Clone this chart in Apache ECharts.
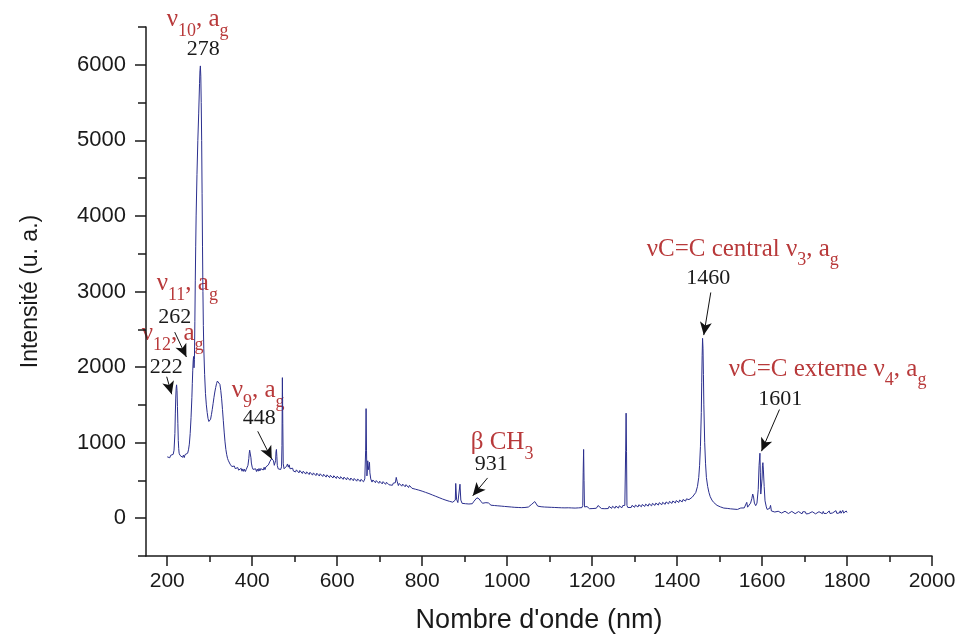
<!DOCTYPE html>
<html>
<head>
<meta charset="utf-8">
<script src="https://cdn.jsdelivr.net/npm/echarts@6/dist/echarts.min.js"></script>
<style>
  html, body { margin: 0; padding: 0; background: #fff; }
  #chart { width: 960px; height: 639px; }
</style>
</head>
<body>
<div id="chart"></div>
<script>
// Raman spectrum: [wavenumber, intensity] pairs, low-frequency region
const spectrumLow = [
  [200,812],[202,790],[204,826],[206,800],[208,832],[210,806],[212,836],[214,845],[216,900],[218,1120],
  [219,1380],[220,1590],[221,1720],[222,1765],[223,1690],[224,1480],[225,1250],[226,1030],[227,920],[228,860],
  [230,832],[232,808],[234,846],[236,806],[238,834],[240,802],[242,842],[244,816],[246,848],[248,860],
  [250,905],[252,980],[254,1120],[256,1330],[258,1600],[259,1780],[260,1950],[261,2080],[262,2140],[263,1990],
  [264,2100],[265,2600],[266,3150],[267,3600],[268,4000],[270,4550],[272,5000],[274,5350],[276,5750],[277,5920],
  [278,5985],[279,5850],[280,5500],[281,5000],[282,4300],[283,3600],[284,3000],[285,2550],[286,2250],[288,1900],
  [290,1650],[292,1500],[294,1400],[296,1320],[298,1280],[300,1275],[302,1310],[304,1370],[306,1440],[308,1520],
  [310,1600],[312,1670],[314,1730],[316,1780],[318,1815],[320,1830],[322,1815],[324,1770],[326,1690],[328,1580],
  [330,1440],[332,1290],[334,1140],[336,1010],[338,910],[340,840],[342,790],[344,760],[346,735],[348,715],
  [350,710],[352,684],[354,704],[356,668],[358,690],[360,656],[362,680],[364,642],[366,670],[368,636],
  [370,662],[372,630],[374,660],[376,622],[378,652],[380,620],[382,648],[384,618],[386,646],[388,655],
  [390,700],[392,790],[393,860],[394,900],[395,915],[396,880],[397,800],[398,730],[400,675],[402,646],
  [404,648],[406,620],[408,654],[410,618],[412,650],[414,622],[416,658],[418,626],[420,656],[422,630],
  [424,666],[426,638],[428,674],[430,642],[432,678],[434,658],[436,692],[438,705],[440,730],[442,755],
  [444,775],[446,790],[448,792],[450,760],[452,700],[454,690],[455,760],[456,880],[457,910],[458,820],
  [459,700],[461,654],[463,640],[465,674],[467,644],[469,680],[470,960],[471,1860],[472,1250],[473,720],
  [475,654],[477,640],[479,674],[481,690],[483,718],[485,676],[487,706],[489,654],[491,678],[493,634],
  [495,662],[497,624],[499,648]
];

// Mid-frequency region
const spectrumMid = [
  [502,612],[504,640],[506,626],[510,600],[512,632],[514,618],[518,592],[520,622],[522,606],[526,584],
  [528,614],[530,600],[534,578],[536,608],[538,592],[542,570],[544,600],[546,586],[550,564],[552,596],
  [554,580],[558,558],[560,588],[562,572],[566,552],[568,582],[570,566],[574,544],[576,574],[578,560],
  [582,538],[584,568],[586,552],[590,532],[592,562],[594,546],[598,526],[600,556],[602,540],[606,520],
  [608,550],[610,534],[614,514],[616,544],[618,528],[622,508],[624,538],[626,522],[630,502],[632,532],
  [634,516],[638,496],[640,526],[642,510],[646,490],[648,520],[650,504],[654,486],[656,514],[658,498],
  [662,482],[665,520],[667,900],[668,1450],[669,900],[670,560],[671,640],[672,760],[673,640],[675,700],
  [676,740],[677,600],[679,520],[682,478],[684,506],[686,490],[690,470],[692,498],[694,482],[698,462],
  [700,490],[702,476],[706,454],[708,484],[710,468],[714,448],[716,476],[718,462],[722,442],[724,468],
  [726,454],[730,436],[732,464],[734,450],[737,470],[739,540],[740,560],[741,490],[744,432],[746,460],
  [748,444],[752,424],[754,452],[756,436],[760,416],[762,444],[764,428],[768,406],[770,434],[772,418],
  [776,396],[778,422],[780,406],[784,384],[786,410],[788,394],[792,372],[794,396],[796,380],[800,358],
  [802,382],[804,366],[808,342],[810,364],[812,348],[816,326],[818,346],[820,332],[824,308],[826,328],
  [828,312],[832,290],[834,310],[836,294],[840,272],[842,292],[844,276],[848,254],[850,274],[852,258],
  [856,238],[858,258],[860,242],[864,224],[866,244],[868,230],[872,212],[874,234],[876,220],[878,240],
  [879,460],[880,470],[881,250],[884,207],[886,228],[888,222],[889,450],[890,465],[891,240],[894,197],
  [896,222],[898,212],[902,192],[904,218],[906,207],[910,188],[912,214],[914,202],[918,192],[922,225],
  [926,250],[929,270],[931,282],[934,255],[938,225],[942,198],[944,214],[946,188],[950,206],[952,192],
  [954,180],[956,202],[958,190],[962,172],[964,196],[966,184],[970,168],[972,192],[974,180],[978,164],
  [980,188],[982,176],[986,160],[988,184],[990,172],[994,156],[996,180],[998,168]
];

// High-frequency region
const spectrumHigh = [
  [1002,152],[1004,176],[1006,164],[1010,148],[1012,172],[1014,160],[1018,144],[1020,170],[1022,156],[1026,142],
  [1028,168],[1030,154],[1034,140],[1036,166],[1038,152],[1042,142],[1044,168],[1046,154],[1050,148],[1054,170],
  [1058,185],[1062,205],[1065,220],[1068,195],[1072,160],[1074,142],[1076,164],[1080,152],[1082,138],[1084,162],
  [1088,148],[1090,134],[1092,160],[1096,146],[1098,132],[1100,156],[1104,144],[1106,130],[1108,156],[1112,142],
  [1114,128],[1116,154],[1120,140],[1122,126],[1124,152],[1128,138],[1130,126],[1132,150],[1136,137],[1138,124],
  [1140,150],[1144,138],[1146,126],[1148,152],[1152,136],[1154,122],[1156,150],[1160,134],[1162,124],[1164,150],
  [1168,137],[1170,128],[1172,152],[1176,140],[1178,170],[1179,600],[1180,910],[1181,500],[1182,150],[1186,130],
  [1188,154],[1190,142],[1194,126],[1196,152],[1198,138],[1202,128],[1204,154],[1206,140],[1210,132],[1214,168],
  [1216,180],[1218,145],[1222,128],[1224,154],[1226,140],[1230,126],[1232,152],[1234,138],[1238,128],[1240,156],
  [1242,142],[1246,130],[1248,158],[1250,144],[1254,132],[1256,160],[1258,147],[1262,134],[1264,164],[1266,150],
  [1270,138],[1272,166],[1274,152],[1277,170],[1279,900],[1280,1390],[1281,880],[1282,170],[1284,142],[1286,168],
  [1288,154],[1292,142],[1294,170],[1296,157],[1300,144],[1302,174],[1304,160],[1308,148],[1310,178],[1312,164],
  [1316,152],[1318,182],[1320,168],[1324,156],[1326,186],[1328,172],[1332,160],[1334,192],[1336,178],[1340,164],
  [1342,196],[1344,182],[1348,170],[1350,200],[1352,186],[1356,174],[1358,206],[1360,192],[1364,178],[1366,210],
  [1368,196],[1372,184],[1374,216],[1376,202],[1380,190],[1382,222],[1384,208],[1388,196],[1390,228],[1392,214],
  [1396,202],[1398,234],[1400,220],[1404,208],[1406,240],[1408,226],[1412,216],[1414,248],[1416,234],[1420,226],
  [1422,256],[1424,244],[1428,246],[1432,265],[1436,280],[1440,300],[1444,340],[1448,420],[1451,540],[1453,700],
  [1455,950],[1457,1400],[1458,1800],[1459,2150],[1460,2380],[1461,2250],[1462,1900],[1463,1500],[1465,1000],[1467,720],
  [1469,540],[1472,420],[1475,340],[1478,285],[1482,240],[1486,210],[1490,190],[1494,170],[1496,182],[1498,156],
  [1502,150],[1504,162],[1506,138],[1510,134],[1512,150],[1514,124],[1518,130],[1520,142],[1522,116],[1526,124],
  [1528,136],[1530,110],[1534,120],[1536,132],[1538,106],[1542,116],[1544,128],[1546,112],[1550,135],[1552,160],
  [1554,120],[1558,136],[1562,160],[1564,210],[1566,146],[1570,158],[1573,200],[1576,260],[1578,320],[1580,280],
  [1582,200],[1585,166],[1588,200],[1591,380],[1593,700],[1595,860],[1596,600],[1597,320],[1599,300],[1600,520],
  [1601,700],[1602,735],[1603,650],[1605,420],[1607,230],[1610,150],[1612,116],[1615,100],[1618,130],[1620,170],
  [1622,96],[1624,72],[1626,94],[1630,82],[1632,100],[1634,70],[1638,92],[1640,74],[1642,96],[1646,68],
  [1648,90],[1650,66],[1654,92],[1656,70],[1658,84],[1662,62],[1664,88],[1666,66],[1670,90],[1672,64],
  [1674,86],[1678,60],[1680,84],[1682,64],[1686,88],[1688,62],[1690,80],[1694,58],[1696,86],[1698,64],
  [1702,84],[1704,56],[1706,80],[1710,62],[1712,88],[1714,60],[1718,86],[1720,62],[1722,80],[1726,58],
  [1728,84],[1730,56],[1734,86],[1736,64],[1738,82],[1742,60],[1744,90],[1746,62],[1750,86],[1752,64],
  [1754,80],[1758,96],[1760,62],[1762,84],[1766,70],[1768,92],[1770,66],[1774,100],[1776,64],[1778,86],
  [1782,70],[1784,98],[1786,66],[1790,104],[1792,68],[1794,86],[1798,96],[1800,76]
];

// Axis ticks
const xLabelTicks = [200, 400, 600, 800, 1000, 1200, 1400, 1600, 1800, 2000];
const xMinorTicks = [300, 500, 700, 900, 1100, 1300, 1500, 1700, 1900];
const yLabelTicks = [0, 1000, 2000, 3000, 4000, 5000, 6000];
const yMinorTicks = [-500, 500, 1500, 2500, 3500, 4500, 5500, 6500];

// Band assignments (rich text) and their wavenumbers
const bandNames = [
  '{m|ν}{s|10}{m|, a}{s|g}',
  '{m|ν}{s|11}{m|, a}{s|g}',
  '{m|ν}{s|12}{m|, a}{s|g}',
  '{m|ν}{s|9}{m|, a}{s|g}',
  '{m|β CH}{s|3}',
  '{m|νC=C central ν}{s|3}{m|, a}{s|g}',
  '{m|νC=C externe ν}{s|4}{m|, a}{s|g}'
];
const bandValues = ['278', '262', '222', '448', '931', '1460', '1601'];

// Placement of the annotation texts, in axis units (top-left of name, top-centre of value)
const nameAnchors = [[198.7, 6793], [175.2, 3294], [139.9, 2638], [351.7, 1877], [914.3, 1194], [1328.4, 3753], [1521.5, 2165]];
const valueAnchors = [[284.6, 6386], [217.6, 2843], [197.5, 2186], [416.4, 1504], [962.5, 900], [1473.3, 3367], [1642.7, 1766]];

// Pointer arrows, from the label towards the band
const arrowPaths = [
  [[198.7, 1872], [210.5, 1640]],
  [[217.6, 2462], [245.1, 2133]],
  [[413, 1150], [446, 782]],
  [[954, 533], [919, 297]],
  [[1479.3, 2987], [1462.8, 2423]],
  [[1641, 1438], [1598.6, 887]]
];

const spectrum = spectrumLow.concat(spectrumMid, spectrumHigh);

const axisColor = '#1a1a1a';
const sansFont = 'Liberation Sans, Arial, sans-serif';
const serifFont = 'Liberation Serif, Times New Roman, serif';
const redText = '#b8393a';
const plainNumber = v => String(v);

const chart = echarts.init(document.getElementById('chart'), null, { renderer: 'canvas' });

chart.setOption({
  animation: false,
  backgroundColor: '#ffffff',
  grid: { left: 146, right: 28, top: 27, bottom: 78, containLabel: false },
  xAxis: [
    {
      type: 'value', min: 150, max: 2000, position: 'bottom',
      name: "Nombre d'onde (nm)", nameLocation: 'middle', nameGap: 51,
      nameTextStyle: { fontFamily: sansFont, fontSize: 27, color: '#1a1a1a' },
      axisLine: { show: true, onZero: false, lineStyle: { color: axisColor, width: 1.5 } },
      axisTick: { show: true, customValues: xLabelTicks, length: 10, inside: false, lineStyle: { color: axisColor, width: 1.5 } },
      axisLabel: { show: true, customValues: xLabelTicks, formatter: plainNumber, margin: 15, fontFamily: sansFont, fontSize: 21, color: '#1a1a1a' },
      splitLine: { show: false }
    },
    {
      type: 'value', min: 150, max: 2000, position: 'bottom', offset: 0,
      axisLine: { show: false, onZero: false },
      axisTick: { show: true, customValues: xMinorTicks, length: 6, inside: false, lineStyle: { color: axisColor, width: 1.5 } },
      axisLabel: { show: false },
      splitLine: { show: false }
    }
  ],
  yAxis: [
    {
      type: 'value', min: -500, max: 6500, position: 'left',
      name: 'Intensité (u. a.)', nameLocation: 'middle', nameGap: 104,
      nameTextStyle: { fontFamily: sansFont, fontSize: 23, color: '#1a1a1a' },
      axisLine: { show: true, onZero: false, lineStyle: { color: axisColor, width: 1.5 } },
      axisTick: { show: true, customValues: yLabelTicks, length: 11, inside: false, lineStyle: { color: axisColor, width: 1.5 } },
      axisLabel: { show: true, customValues: yLabelTicks, formatter: plainNumber, margin: 20, fontFamily: sansFont, fontSize: 22, color: '#1a1a1a' },
      splitLine: { show: false }
    },
    {
      type: 'value', min: -500, max: 6500, position: 'left', offset: 0,
      axisLine: { show: false, onZero: false },
      axisTick: { show: true, customValues: yMinorTicks, length: 8, inside: false, lineStyle: { color: axisColor, width: 1.5 } },
      axisLabel: { show: false },
      splitLine: { show: false }
    }
  ],
  series: [
    {
      type: 'line',
      xAxisIndex: 0, yAxisIndex: 0,
      data: spectrum,
      showSymbol: false,
      symbol: 'none',
      sampling: false,
      lineStyle: { color: '#2b2f8e', width: 1 },
      silent: true,
      markLine: {
        silent: true,
        animation: false,
        symbol: ['none', 'arrow'],
        symbolSize: 12,
        symbolKeepAspect: false,
        label: { show: false },
        lineStyle: { color: '#111111', width: 1, type: 'solid', opacity: 1 },
        itemStyle: { color: '#111111' },
        emphasis: { disabled: true },
        data: arrowPaths.map(p => [
          { coord: p[0], symbol: 'none' },
          { coord: p[1], symbol: 'arrow', symbolSize: [9, 13] }
        ])
      }
    }
  ]
});

// Annotation texts placed through the axis scales
const richStyles = {
  m: { fontFamily: serifFont, fontSize: 25, lineHeight: 25, verticalAlign: 'top', color: redText },
  s: { fontFamily: serifFont, fontSize: 18, lineHeight: 18, verticalAlign: 'top', color: redText, padding: [15, 0, 0, 0] }
};

const graphics = [];
bandNames.forEach((name, i) => {
  const p = chart.convertToPixel({ xAxisIndex: 0, yAxisIndex: 0 }, nameAnchors[i]);
  graphics.push({
    type: 'text', x: p[0], y: p[1] + 2, silent: true,
    style: { text: name, rich: richStyles, align: 'left', verticalAlign: 'top', fill: redText }
  });
});
bandValues.forEach((v, i) => {
  const p = chart.convertToPixel({ xAxisIndex: 0, yAxisIndex: 0 }, valueAnchors[i]);
  graphics.push({
    type: 'text', x: p[0], y: p[1] + 3, silent: true,
    style: { text: v, font: '22px ' + serifFont, fill: '#1a1a1a', align: 'center', verticalAlign: 'top', lineHeight: 22 }
  });
});
chart.setOption({ graphic: graphics });
</script>
</body>
</html>
